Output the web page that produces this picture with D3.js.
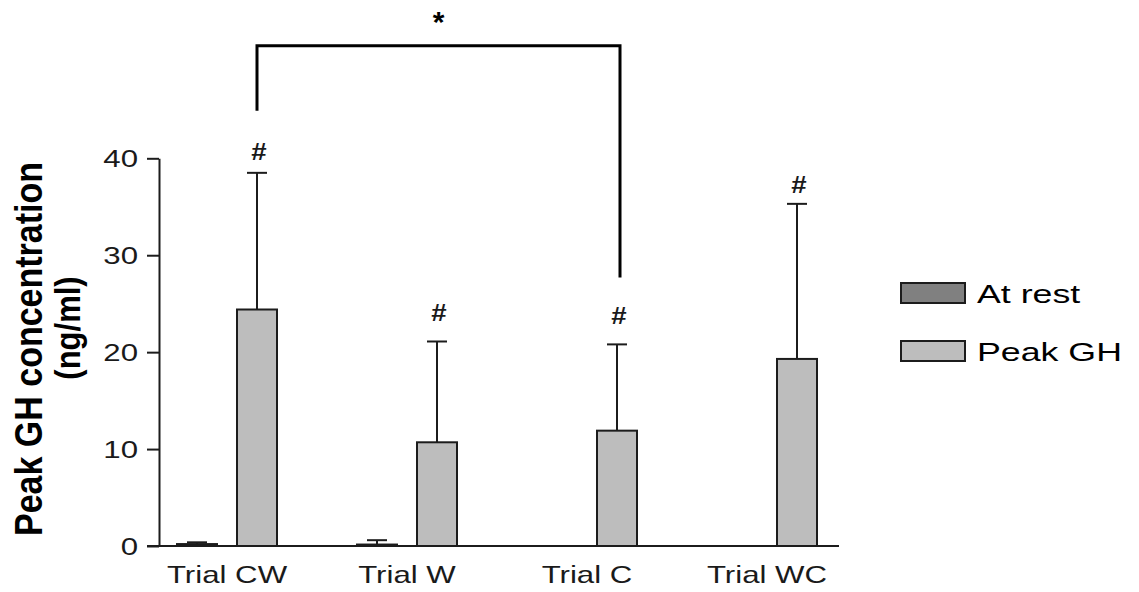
<!DOCTYPE html>
<html>
<head>
<meta charset="utf-8">
<script src="https://cdn.jsdelivr.net/npm/d3@7"></script>
<style>
  body { margin: 0; background: #fff; }
  svg { display: block; font-family: "Liberation Sans", Arial, sans-serif; }
</style>
</head>
<body>
<div class="chart"></div>
<script>
// categories and series
const trials = ["Trial CW", "Trial W", "Trial C", "Trial WC"];
const seriesNames = ["At rest", "Peak GH"];

// means and SD (ng/ml)
const atRestMean = [0.2, 0.15, 0, 0];
const atRestSd = [0.18, 0.45, 0, 0];
const peakMean = [24.4, 10.7, 11.9, 19.3];
const peakSd = [14.1, 10.4, 8.9, 16.0];

// '#' marks: which trials, and at what level (ng/ml) they sit
const hashMarks = [true, true, true, true];
const hashLevel = [39.8, 23.2, 22.9, 36.4];

// significance bracket between CW and C (levels in ng/ml)
const sigFrom = "Trial CW";
const sigTo = "Trial C";
const sigTop = 51.6;
const sigLeftEnd = 44.9;
const sigRightEnd = 27.7;

const yTicks = [0, 10, 20, 30, 40];

const colors = { "At rest": "#808080", "Peak GH": "#bdbdbd" };
const ink = "#1c1c1c";

// layout
const width = 1139, height = 592;
const axisX = 159, baseY = 546, topY = 158.3;
const stretch = 1.3; // the source text is drawn wide

const svg = d3.select(".chart").append("svg")
  .attr("width", width)
  .attr("height", height);

const y = d3.scaleLinear().domain([0, 40]).range([baseY, topY]);

const x0 = d3.scaleBand().domain(trials).range([137, 857]);
const x1 = d3.scaleBand().domain(seriesNames).range([0, 100]).paddingInner(1 / 3);
const groupLeft = t => x0(t) + x0.bandwidth() / 2 - 50;

// table rows built from the arrays
const rows = [];
trials.forEach((t, i) => {
  rows.push({ trial: t, series: "At rest", mean: atRestMean[i], sd: atRestSd[i] });
  rows.push({ trial: t, series: "Peak GH", mean: peakMean[i], sd: peakSd[i] });
});

// y axis
const yAxis = svg.append("g")
  .attr("transform", `translate(${axisX},0)`)
  .call(d3.axisLeft(y).tickValues(yTicks).tickSize(12).tickSizeOuter(0).tickPadding(9));
yAxis.select(".domain").attr("stroke", ink).attr("stroke-width", 2);
yAxis.selectAll(".tick line").attr("stroke", ink).attr("stroke-width", 2);
yAxis.selectAll(".tick text")
  .attr("fill", "#1a1a1a")
  .style("font-size", "24px")
  .attr("x", 0)
  .attr("dy", "0.36em")
  .attr("transform", `translate(-21,0) scale(${stretch},1)`);

// baseline
svg.append("line")
  .attr("x1", axisX - 12).attr("x2", 839)
  .attr("y1", y(0)).attr("y2", y(0))
  .attr("stroke", ink).attr("stroke-width", 2);

// x labels
svg.selectAll("text.xlab")
  .data(trials)
  .enter().append("text")
  .attr("class", "xlab")
  .attr("text-anchor", "middle")
  .attr("transform", d => `translate(${x0(d) + x0.bandwidth() / 2},583) scale(${stretch},1)`)
  .style("font-size", "24px")
  .attr("fill", "#1a1a1a")
  .text(d => d);

// bars
const visible = rows.filter(d => d.mean > 0);
svg.selectAll("rect.bar")
  .data(visible)
  .enter().append("rect")
  .attr("class", "bar")
  .attr("x", d => groupLeft(d.trial) + x1(d.series))
  .attr("width", x1.bandwidth())
  .attr("y", d => y(d.mean))
  .attr("height", d => y(0) - y(d.mean))
  .attr("fill", d => colors[d.series])
  .attr("stroke", ink)
  .attr("stroke-width", 2);

// error bars (upper only)
const errs = svg.selectAll("g.err")
  .data(visible.filter(d => d.sd > 0))
  .enter().append("g")
  .attr("class", "err")
  .attr("stroke", ink)
  .attr("stroke-width", 2);

errs.append("line")
  .attr("x1", d => groupLeft(d.trial) + x1(d.series) + x1.bandwidth() / 2)
  .attr("x2", d => groupLeft(d.trial) + x1(d.series) + x1.bandwidth() / 2)
  .attr("y1", d => y(d.mean))
  .attr("y2", d => y(d.mean + d.sd));

errs.append("line")
  .attr("x1", d => groupLeft(d.trial) + x1(d.series) + x1.bandwidth() / 2 - 10)
  .attr("x2", d => groupLeft(d.trial) + x1(d.series) + x1.bandwidth() / 2 + 10)
  .attr("y1", d => y(d.mean + d.sd))
  .attr("y2", d => y(d.mean + d.sd));

// '#' marks over the peak bars
svg.selectAll("text.hash")
  .data(trials.filter((t, i) => hashMarks[i]))
  .enter().append("text")
  .attr("class", "hash")
  .attr("text-anchor", "middle")
  .attr("transform", d => `translate(${groupLeft(d) + x1("Peak GH") + x1.bandwidth() / 2 + 2},${y(hashLevel[trials.indexOf(d)])}) scale(1.15,1)`)
  .style("font-size", "24px")
  .style("font-weight", "bold")
  .attr("fill", "#1a1a1a")
  .text("#");

// significance bracket
const sx1 = groupLeft(sigFrom) + x1("Peak GH") + x1.bandwidth() / 2;
const sx2 = groupLeft(sigTo) + x1("Peak GH") + x1.bandwidth() / 2 + 3;
svg.append("path")
  .attr("d", d3.line()([[sx1, y(sigLeftEnd)], [sx1, y(sigTop)], [sx2, y(sigTop)], [sx2, y(sigRightEnd)]]))
  .attr("fill", "none")
  .attr("stroke", "#000")
  .attr("stroke-width", 3);
svg.append("text")
  .attr("text-anchor", "middle")
  .attr("x", (sx1 + sx2) / 2)
  .attr("y", 32)
  .style("font-size", "30px")
  .style("font-weight", "bold")
  .attr("fill", "#000")
  .text("*");

// y title, two lines
const title = svg.append("g").attr("fill", "#000").style("font-weight", "bold");
title.append("text")
  .attr("text-anchor", "middle")
  .attr("transform", "translate(42,349) scale(1.15,1) rotate(-90)")
  .style("font-size", "34px")
  .text("Peak GH concentration");
title.append("text")
  .attr("text-anchor", "middle")
  .attr("transform", "translate(80,328) scale(1.15,1) rotate(-90)")
  .style("font-size", "31px")
  .text("(ng/ml)");

// legend
const legend = svg.selectAll("g.legend")
  .data(seriesNames)
  .enter().append("g")
  .attr("class", "legend")
  .attr("transform", (d, i) => `translate(901,${283 + i * 58})`);

legend.append("rect")
  .attr("width", 64)
  .attr("height", 20)
  .attr("fill", d => colors[d])
  .attr("stroke", ink)
  .attr("stroke-width", 2);

legend.append("text")
  .attr("transform", `translate(76,20) scale(1.43,1)`)
  .style("font-size", "25px")
  .attr("fill", "#000")
  .text(d => d);
</script>
</body>
</html>
